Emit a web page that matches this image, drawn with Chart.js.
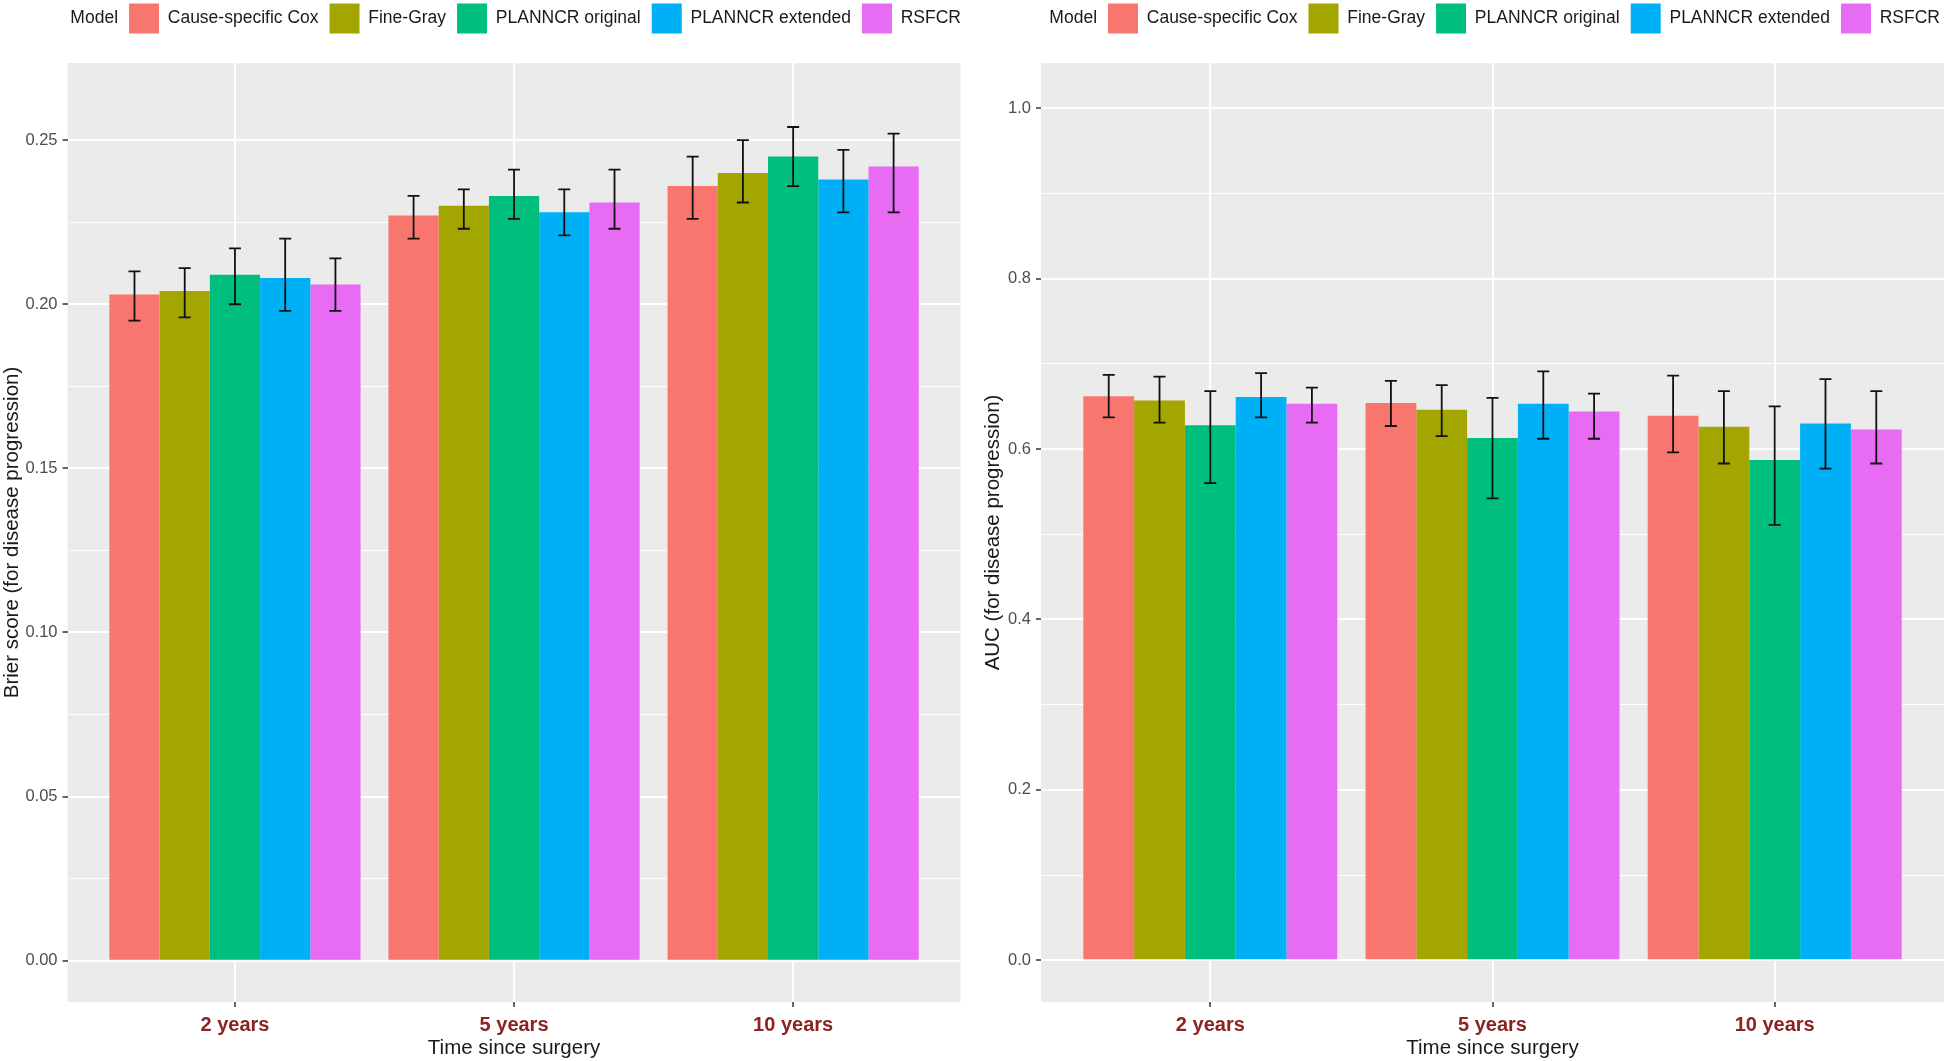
<!DOCTYPE html>
<html><head><meta charset="utf-8">
<script src="https://cdn.jsdelivr.net/npm/chart.js@4"></script>
<style>
html,body{margin:0;padding:0;background:#fff;overflow:hidden;width:1946px;height:1061px;}
#left{position:absolute;left:0;top:0;width:981px;height:1061px;}
#right{position:absolute;left:981px;top:0;width:965px;height:1061px;}
</style></head><body>
<div id="left"><canvas id="c1"></canvas></div>
<div id="right"><canvas id="c2"></canvas></div>
<script>
// ---------- data ----------
const models = ['Cause-specific Cox', 'Fine-Gray', 'PLANNCR original', 'PLANNCR extended', 'RSFCR'];
const modelColors = ['#F8766D', '#A3A500', '#00BF7D', '#00B0F6', '#E76BF3'];
const timePoints = ['2 years', '5 years', '10 years'];
const legendTitle = 'Model';
const xTitle = 'Time since surgery';
const brierTitle = 'Brier score (for disease progression)';
const aucTitle = 'AUC (for disease progression)';

// Brier score: mean, lower, upper (per model, over 2 / 5 / 10 years)
const brierCox   = [0.203, 0.227, 0.236];
const brierCoxLo = [0.195, 0.220, 0.226];
const brierCoxHi = [0.210, 0.233, 0.245];
const brierFG    = [0.204, 0.230, 0.240];
const brierFGLo  = [0.196, 0.223, 0.231];
const brierFGHi  = [0.211, 0.235, 0.250];
const brierPO    = [0.209, 0.233, 0.245];
const brierPOLo  = [0.200, 0.226, 0.236];
const brierPOHi  = [0.217, 0.241, 0.254];
const brierPE    = [0.208, 0.228, 0.238];
const brierPELo  = [0.198, 0.221, 0.228];
const brierPEHi  = [0.220, 0.235, 0.247];
const brierRS    = [0.206, 0.231, 0.242];
const brierRSLo  = [0.198, 0.223, 0.228];
const brierRSHi  = [0.214, 0.241, 0.252];

// AUC: mean, lower, upper
const aucCox   = [0.662, 0.654, 0.639];
const aucCoxLo = [0.637, 0.627, 0.596];
const aucCoxHi = [0.687, 0.680, 0.686];
const aucFG    = [0.657, 0.646, 0.626];
const aucFGLo  = [0.631, 0.615, 0.583];
const aucFGHi  = [0.685, 0.675, 0.668];
const aucPO    = [0.628, 0.613, 0.587];
const aucPOLo  = [0.560, 0.542, 0.511];
const aucPOHi  = [0.668, 0.660, 0.650];
const aucPE    = [0.661, 0.653, 0.630];
const aucPELo  = [0.637, 0.612, 0.577];
const aucPEHi  = [0.689, 0.691, 0.682];
const aucRS    = [0.653, 0.644, 0.623];
const aucRSLo  = [0.631, 0.612, 0.583];
const aucRSHi  = [0.672, 0.665, 0.668];

// axis ticks
const brierMajorTicks = [0, 0.05, 0.10, 0.15, 0.20, 0.25];
const brierTickLabels = ['0.00', '0.05', '0.10', '0.15', '0.20', '0.25'];
const brierMinorTicks = [0.025, 0.075, 0.125, 0.175, 0.225];
const aucMajorTicks = [0, 0.2, 0.4, 0.6, 0.8, 1.0];
const aucTickLabels = ['0.0', '0.2', '0.4', '0.6', '0.8', '1.0'];
const aucMinorTicks = [0.1, 0.3, 0.5, 0.7, 0.9];

// ---------- rendering ----------
const FONT = '"Liberation Sans", Arial, Helvetica, sans-serif';
Chart.defaults.font.family = FONT;

const panelPlugin = {
  id: 'panelBg',
  beforeDraw(chart, args, opts) {
    const a = chart.chartArea, ctx = chart.ctx;
    ctx.save();
    ctx.fillStyle = opts.color || '#EBEBEB';
    ctx.fillRect(a.left, a.top, a.right - a.left, a.bottom - a.top);
    ctx.restore();
  }
};

const errorBarPlugin = {
  id: 'errorBars',
  afterDatasetsDraw(chart, args, opts) {
    const ctx = chart.ctx, ys = chart.scales.y;
    ctx.save();
    ctx.strokeStyle = opts.color;
    ctx.lineWidth = opts.width;
    chart.data.datasets.forEach((ds, di) => {
      const meta = chart.getDatasetMeta(di);
      meta.data.forEach((bar, i) => {
        const x = bar.x;
        const yl = ys.getPixelForValue(ds.errLo[i]);
        const yh = ys.getPixelForValue(ds.errHi[i]);
        const h = opts.cap / 2;
        ctx.beginPath();
        ctx.moveTo(x, yl); ctx.lineTo(x, yh);
        ctx.moveTo(x - h, yl); ctx.lineTo(x + h, yl);
        ctx.moveTo(x - h, yh); ctx.lineTo(x + h, yh);
        ctx.stroke();
      });
    });
    ctx.restore();
  }
};

const legendShiftPlugin = {
  id: 'legendShift',
  afterLayout(chart, args, opts) {
    if (!chart.legend) return;
    chart.legend.left += opts.dx;
    chart.legend.top += opts.dy;
    chart.legend.right = chart.width + 200;
  }
};

function makeChart(canvasId, cfg) {
  const isMajor = v => cfg.major.some(m => Math.abs(m - v) < 1e-9);
  const datasets = models.map((m, k) => ({
    label: m,
    data: cfg.values[k].map((v, i) => ({ x: i + 1, y: v })),
    errLo: cfg.lo[k],
    errHi: cfg.hi[k],
    backgroundColor: modelColors[k],
    borderWidth: 0,
    categoryPercentage: 0.9,
    barPercentage: 1.0
  }));
  return new Chart(document.getElementById(canvasId), {
    type: 'bar',
    data: { datasets },
    plugins: [panelPlugin, errorBarPlugin, legendShiftPlugin],
    options: {
      responsive: true,
      maintainAspectRatio: false,
      animation: false,
      layout: { padding: { top: 12, left: 0, right: cfg.padRight, bottom: 0 } },
      plugins: {
        tooltip: { enabled: false },
        panelBg: { color: '#EBEBEB' },
        errorBars: { color: '#111111', width: 1.8, cap: 12 },
        legendShift: { dx: cfg.legendDx, dy: -19.5 },
        legend: {
          position: 'top',
          align: 'start',
          onClick: () => {},
          labels: {
            boxWidth: 30,
            boxHeight: 30,
            padding: 11,
            color: '#1a1a1a',
            font: { size: 17.5, family: FONT },
            generateLabels(chart) {
              const items = Chart.defaults.plugins.legend.labels.generateLabels(chart);
              items.forEach(it => { it.lineWidth = 0; it.strokeStyle = 'rgba(0,0,0,0)'; });
              return [{ text: legendTitle, fillStyle: 'rgba(0,0,0,0)', strokeStyle: 'rgba(0,0,0,0)',
                        lineWidth: 0, hidden: false, fontColor: '#1a1a1a' }].concat(items);
            }
          }
        }
      },
      scales: {
        x: {
          type: 'linear',
          min: 0.4,
          max: 3.6,
          offset: false,
          afterBuildTicks: s => { s.ticks = timePoints.map((_, i) => ({ value: i + 1 })); },
          afterFit: s => { s.height = 59; },
          ticks: {
            autoSkip: false, maxRotation: 0, padding: 6,
            color: '#8B2323',
            font: { size: 20, weight: 'bold', family: FONT },
            callback: v => timePoints[Math.round(v) - 1]
          },
          grid: { offset: false, color: '#FFFFFF', lineWidth: 2, tickLength: 5, tickColor: '#333333', tickWidth: 1.5, drawTicks: true },
          border: { display: false },
          title: { display: true, text: xTitle, color: '#1a1a1a', font: { size: 20.5, family: FONT }, padding: { top: 0, bottom: 0 } }
        },
        y: {
          type: 'linear',
          min: cfg.yMin,
          max: cfg.yMax,
          afterBuildTicks: s => {
            s.ticks = cfg.major.concat(cfg.minor).sort((a, b) => a - b).map(v => ({ value: v }));
          },
          afterFit: s => { s.width = cfg.yWidth; },
          ticks: {
            padding: 5, color: '#4D4D4D',
            font: { size: 16.5, family: FONT },
            callback: v => { const i = cfg.major.findIndex(m => Math.abs(m - v) < 1e-9); return i >= 0 ? cfg.tickLabels[i] : ''; }
          },
          grid: {
            color: '#FFFFFF',
            lineWidth: c => (c.tick && isMajor(c.tick.value)) ? 2 : 1,
            tickLength: 5,
            tickColor: c => (c.tick && isMajor(c.tick.value)) ? '#333333' : 'rgba(0,0,0,0)',
            tickWidth: 1.5,
            drawTicks: true
          },
          border: { display: false },
          title: { display: true, text: cfg.yTitle, color: '#1a1a1a', font: { size: 20.5, family: FONT }, padding: { top: 0, bottom: 0 } }
        }
      }
    }
  });
}

makeChart('c1', {
  values: [brierCox, brierFG, brierPO, brierPE, brierRS],
  lo: [brierCoxLo, brierFGLo, brierPOLo, brierPELo, brierRSLo],
  hi: [brierCoxHi, brierFGHi, brierPOHi, brierPEHi, brierRSHi],
  major: brierMajorTicks, minor: brierMinorTicks, tickLabels: brierTickLabels,
  yMin: -0.0126, yMax: 0.2735, yTitle: brierTitle, yWidth: 67.5, padRight: 20.4, legendDx: 20.6
});

makeChart('c2', {
  values: [aucCox, aucFG, aucPO, aucPE, aucRS],
  lo: [aucCoxLo, aucFGLo, aucPOLo, aucPELo, aucRSLo],
  hi: [aucCoxHi, aucFGHi, aucPOHi, aucPEHi, aucRSHi],
  major: aucMajorTicks, minor: aucMinorTicks, tickLabels: aucTickLabels,
  yMin: -0.049, yMax: 1.053, yTitle: aucTitle, yWidth: 60, padRight: 2, legendDx: 18.6
});
</script>
</body></html>
